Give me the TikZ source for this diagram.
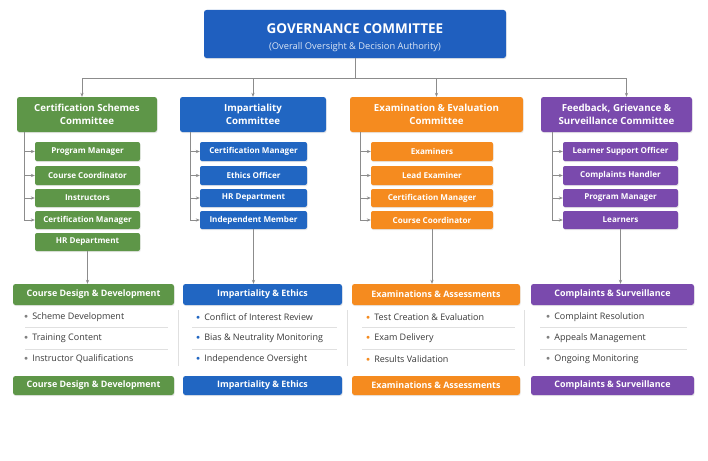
\documentclass[tikz,border=0pt]{standalone}
\usepackage{fontspec}
\setmainfont{Open Sans}
\usetikzlibrary{arrows.meta,shadows}
\definecolor{govblue}{HTML}{1F5FBF}
\definecolor{cgreen}{HTML}{5E9648}
\definecolor{cblue}{HTML}{2166C2}
\definecolor{corange}{HTML}{F58B1F}
\definecolor{cpurple}{HTML}{7A4AAD}
\definecolor{lngray}{HTML}{8C8C8C}
\definecolor{txtgray}{HTML}{3A3A3A}
\newcommand\bx[8]{\node[#8,fill=#6,minimum width={(#4)-(#2)},minimum height={(#5)-(#3)}] (#1) at ({((#2)+(#4))/2},{((#3)+(#5))/2}) {#7};}
\newcommand\blt[5]{\node[bul] (#1) at (#2,#3) {\textcolor{#4}{\raisebox{0.15ex}{\scriptsize$\bullet$}}\hspace{4pt}#5};}
\begin{document}
\begin{tikzpicture}[x=1pt,y=-1pt,
  box/.style={rounded corners=2.5pt,text=white,inner sep=0pt,align=center,
    drop shadow={opacity=0.18,shadow xshift=0.6pt,shadow yshift=-1.2pt}},
  cbox/.style={box,font=\fontsize{9.7}{12.5}\selectfont\bfseries},
  sbox/.style={box,rounded corners=2pt,font=\fontsize{8.1}{9}\selectfont\bfseries},
  hbox/.style={box,font=\fontsize{8.9}{10}\selectfont\bfseries},
  ln/.style={draw=lngray,line width=0.7pt},
  arr/.style={ln,-{Stealth[length=4pt,width=3.2pt]}},
  sep/.style={draw=black!12,line width=0.6pt},
  bul/.style={anchor=west,inner sep=0pt,text=txtgray,font=\fontsize{9}{10}\selectfont}]
\useasboundingbox[fill=white] (0,0) rectangle (708,460);
% governance
\bx{gov}{204}{10}{506}{58}{govblue}{\rule{0pt}{17pt}{\fontsize{13.5}{15}\selectfont\bfseries GOVERNANCE COMMITTEE}\\[4pt]{\fontsize{9.3}{10}\selectfont\color{white!85!govblue}(Overall Oversight \& Decision Authority)}}{box}
% committees
\bx{c1}{17}{97}{157}{132}{cgreen}{Certification Schemes\\Committee}{cbox}
\bx{c2}{180}{97}{326}{132}{cblue}{Impartiality\\Committee}{cbox}
\bx{c3}{350}{97}{523}{132}{corange}{Examination \& Evaluation\\Committee}{cbox}
\bx{c4}{541}{97}{692}{132}{cpurple}{Feedback, Grievance \&\\Surveillance Committee}{cbox}
\coordinate (hb) at (355,78);
\draw[ln] (gov.south) -- (hb);
\draw[arr] (hb) -| ([xshift=-5pt]c1.north);
\draw[arr] (hb) -| (c2.north);
\draw[arr] (hb) -| (c3.north);
\draw[arr] (hb) -| ([xshift=10pt]c4.north);
% green items
\bx{g1}{35}{142}{140}{161}{cgreen}{Program Manager}{sbox}
\bx{g2}{35}{166}{140}{185}{cgreen}{Course Coordinator}{sbox}
\bx{g3}{35}{189}{140}{207}{cgreen}{Instructors}{sbox}
\bx{g4}{35}{211}{140}{229}{cgreen}{Certification Manager}{sbox}
\bx{g5}{35}{233}{140}{251}{cgreen}{HR Department}{sbox}
% blue items
\bx{b1}{200}{142}{307}{161}{cblue}{Certification Manager}{sbox}
\bx{b2}{200}{166}{307}{185}{cblue}{Ethics Officer}{sbox}
\bx{b3}{200}{189}{307}{207}{cblue}{HR Department}{sbox}
\bx{b4}{200}{211}{307}{229}{cblue}{Independent Member}{sbox}
% orange items
\bx{o1}{371}{142}{493}{161}{corange}{Examiners}{sbox}
\bx{o2}{371}{166}{493}{185}{corange}{Lead Examiner}{sbox}
\bx{o3}{371}{189}{493}{207}{corange}{Certification Manager}{sbox}
\bx{o4}{371}{211}{493}{229}{corange}{Course Coordinator}{sbox}
% purple items
\bx{p1}{563}{142}{678}{161}{cpurple}{Learner Support Officer}{sbox}
\bx{p2}{563}{166}{678}{185}{cpurple}{Complaints Handler}{sbox}
\bx{p3}{563}{189}{678}{207}{cpurple}{Program Manager}{sbox}
\bx{p4}{563}{211}{678}{229}{cpurple}{Learners}{sbox}
% brackets
\foreach \c/\p/\xx in {c1/g/24,c2/b/190,c3/o/360,c4/p/552}{
  \draw[ln] (\c.south -| \xx,0) -- (\p4.west -| \xx,0);
  \foreach \i in {1,2,3,4}{\draw[arr] (\p\i.west -| \xx,0) -- (\p\i.west);}
}
% headers
\bx{h1}{13}{284}{174}{305}{cgreen}{Course Design \& Development}{hbox}
\bx{h2}{183}{284}{342}{305}{cblue}{Impartiality \& Ethics}{hbox}
\bx{h3}{352}{284}{520}{305}{corange}{Examinations \& Assessments}{hbox}
\bx{h4}{531}{284}{694}{305}{cpurple}{Complaints \& Surveillance}{hbox}
\draw[arr] (g5.south) -- (g5.south |- h1.north);
\draw[arr] (b4.south) -- (b4.south |- h2.north);
\draw[arr] (o4.south) -- (o4.south |- h3.north);
\draw[arr] (p4.south) -- (p4.south |- h4.north);
% footers
\bx{f1}{13}{376}{174}{395}{cgreen}{Course Design \& Development}{hbox}
\bx{f2}{183}{376}{342}{395}{cblue}{Impartiality \& Ethics}{hbox}
\bx{f3}{352}{376}{520}{395}{corange}{Examinations \& Assessments}{hbox}
\bx{f4}{531}{376}{694}{395}{cpurple}{Complaints \& Surveillance}{hbox}
% separators
\foreach \a/\b in {25/168,192/337,362/515,540/687}{
  \draw[sep] (\a,327) -- (\b,327);
  \draw[sep] (\a,349) -- (\b,349);
}
\foreach \xx in {178,347,524}{\draw[sep] (\xx,310) -- (\xx,366);}
% bullets
\blt{l1}{24}{317}{gray}{Scheme Development}
\blt{l2}{24}{338}{gray}{Training Content}
\blt{l3}{24}{359}{gray}{Instructor Qualifications}
\blt{m1}{196}{317}{cblue}{Conflict of Interest Review}
\blt{m2}{196}{338}{cblue}{Bias \& Neutrality Monitoring}
\blt{m3}{196}{359}{cblue}{Independence Oversight}
\blt{n1}{366}{317}{corange}{Test Creation \& Evaluation}
\blt{n2}{366}{338}{corange}{Exam Delivery}
\blt{n3}{366}{359}{corange}{Results Validation}
\blt{q1}{546}{317}{gray}{Complaint Resolution}
\blt{q2}{546}{338}{gray}{Appeals Management}
\blt{q3}{546}{359}{gray}{Ongoing Monitoring}
\end{tikzpicture}
\end{document}
